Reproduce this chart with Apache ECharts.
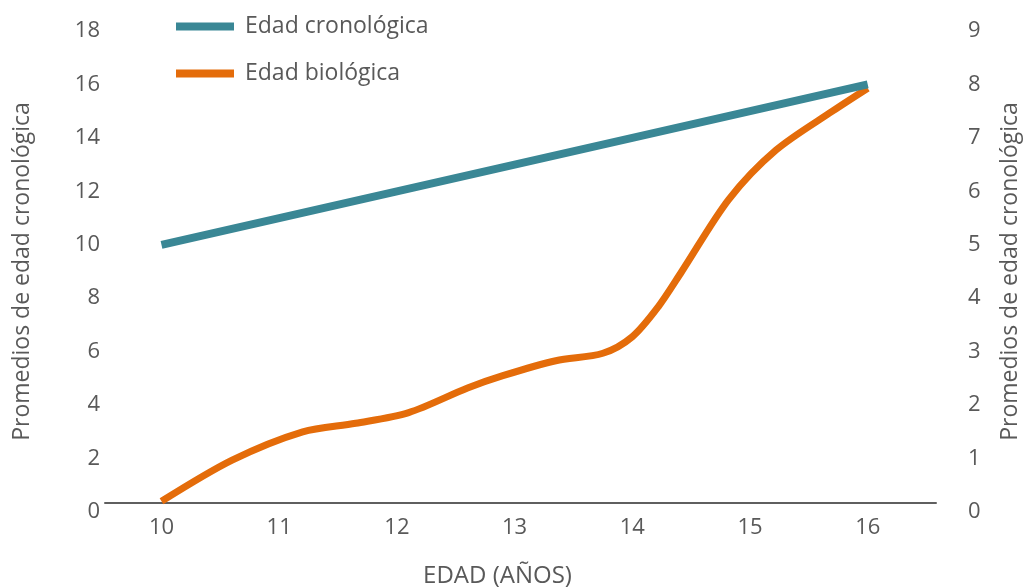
<!DOCTYPE html>
<html>
<head>
<meta charset="utf-8">
<script src="https://cdn.jsdelivr.net/npm/echarts@6/dist/echarts.min.js"></script>
<style>
html,body{margin:0;padding:0;background:#fff;}
#c{width:1024px;height:587px;}
</style>
</head>
<body>
<div id="c"></div>
<script>
var xTicks = [10, 11, 12, 13, 14, 15, 16];
var leftTicks = [0, 2, 4, 6, 8, 10, 12, 14, 16, 18];
var rightTicks = [0, 1, 2, 3, 4, 5, 6, 7, 8, 9];
var seriesNames = ['Edad cronológica', 'Edad biológica'];
// Edad cronológica (left axis)
var cronoX = [10, 11, 12, 13, 14, 15, 16];
var cronoY = [10, 11, 12, 13, 14, 15, 16];
// Edad biológica (right axis)
var bioX = [10, 10.6, 11.2, 11.65, 12.1, 12.6, 12.9, 13.35, 13.75, 14.0, 14.22, 14.42, 14.82, 15.22, 15.7, 16];
var bioY = [0.2, 0.97, 1.5, 1.66, 1.86, 2.32, 2.55, 2.83, 2.97, 3.28, 3.84, 4.5, 5.85, 6.77, 7.5, 7.93];

var TXT = '#595959';
var FONT = 'Open Sans';
function pairs(xs, ys){ return xs.map(function(x,i){ return [x, ys[i]]; }); }

var chart = echarts.init(document.getElementById('c'), null, {renderer:'canvas'});
chart.setOption({
  animation: false,
  textStyle: {fontFamily: FONT, color: TXT},
  grid: {left: 105, right: 88, top: 31, bottom: 75, containLabel: false, outerBoundsMode: 'none'},
  legend: {
    orient: 'vertical', left: 171, top: 10, itemGap: 24,
    itemWidth: 58, itemHeight: 8, icon: 'rect',
    textStyle: {fontFamily: FONT, fontSize: 23, color: TXT, padding: [0,0,0,6]},
    data: seriesNames
  },
  xAxis: {
    type: 'value', min: 9.52, max: 16.58, offset: -9,
    name: 'EDAD (AÑOS)', nameLocation: 'middle', nameGap: 61,
    nameTextStyle: {fontFamily: FONT, fontSize: 24, color: TXT, padding: [0, 46, 0, 0]},
    axisLine: {show: true, lineStyle: {color: '#5f5f5f', width: 2}},
    axisTick: {show: false},
    splitLine: {show: false},
    axisLabel: {customValues: xTicks, fontSize: 22, color: TXT, margin: 14, fontFamily: FONT}
  },
  yAxis: [{
    type: 'value', min: 0, max: 18, interval: 2, position: 'left',
    name: 'Promedios de edad cronológica', nameLocation: 'middle', nameGap: 71, nameRotate: 90,
    nameTextStyle: {fontFamily: FONT, fontSize: 23, color: TXT},
    axisLine: {show: false}, axisTick: {show: false}, splitLine: {show: false},
    axisLabel: {fontSize: 22, color: TXT, margin: 5, fontFamily: FONT,
      customValues: leftTicks}
  }, {
    type: 'value', min: 0, max: 9, interval: 1, position: 'right',
    name: 'Promedios de edad cronológica', nameLocation: 'middle', nameGap: 63, nameRotate: 90,
    nameTextStyle: {fontFamily: FONT, fontSize: 23, color: TXT},
    axisLine: {show: false}, axisTick: {show: false}, splitLine: {show: false},
    axisLabel: {fontSize: 22, color: TXT, margin: 32, fontFamily: FONT,
      customValues: rightTicks}
  }],
  series: [{
    name: seriesNames[0], type: 'line', yAxisIndex: 0, z: 3,
    data: pairs(cronoX, cronoY), showSymbol: false, symbol: 'none',
    lineStyle: {color: '#3a8795', width: 8, cap: 'butt'},
    itemStyle: {color: '#3a8795'}
  }, {
    name: seriesNames[1], type: 'line', yAxisIndex: 1, z: 2,
    data: pairs(bioX, bioY), showSymbol: false, symbol: 'none', smooth: 0.3,
    lineStyle: {color: '#e46c0a', width: 7, cap: 'butt'},
    itemStyle: {color: '#e46c0a'}
  }]
});
</script>
</body>
</html>
